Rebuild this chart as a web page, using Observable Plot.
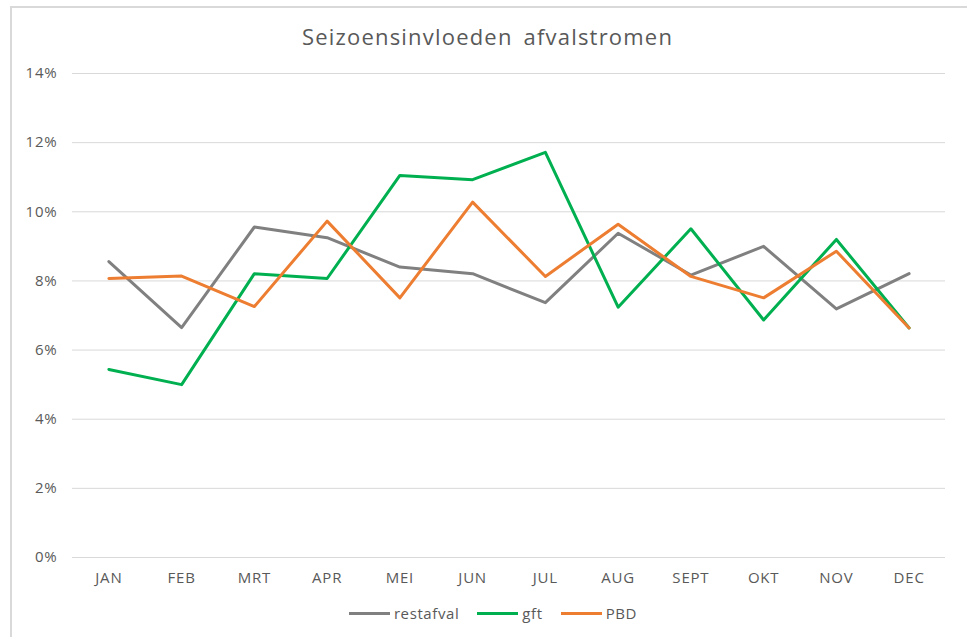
<!DOCTYPE html>
<html>
<head>
<meta charset="utf-8">
<script src="https://cdn.jsdelivr.net/npm/d3@7"></script>
<script src="https://cdn.jsdelivr.net/npm/@observablehq/plot@0.6"></script>
<style>
  html, body { margin: 0; padding: 0; background: #fff; }
  #wrap { position: relative; width: 967px; height: 637px; overflow: hidden; font-family: "Open Sans", sans-serif; color: #595959; }
  #frame { position: absolute; left: 10px; top: 6px; width: 1000px; height: 700px; border-left: 2px solid #d9d9d9; border-top: 2px solid #d9d9d9; }
  #title { position: absolute; left: 0; width: 975px; top: 21px; text-align: center; font-size: 22px; line-height: 30px; word-spacing: 4px; letter-spacing: 1.2px; }
  #chart { position: absolute; left: 0; top: 60px; }
  #chart svg text { letter-spacing: 0.8px; }
  #legend { position: absolute; left: 0; width: 986px; top: 603px; display: flex; justify-content: center; font-size: 15px; line-height: 20px; letter-spacing: 0.6px; }
  .item { display: flex; align-items: center; margin: 0 9px; }
  .swatch { width: 41px; height: 3px; margin-right: 4px; }
</style>
</head>
<body>
<div id="wrap">
  <div id="frame"></div>
  <div id="title">Seizoensinvloeden afvalstromen</div>
  <div id="chart"></div>
  <div id="legend"></div>
</div>
<script>
const months = ["JAN","FEB","MRT","APR","MEI","JUN","JUL","AUG","SEPT","OKT","NOV","DEC"];
const seriesNames = ["restafval","gft","PBD"];
const seriesColors = ["#808080","#00B050","#ED7D31"];
const restafval = [8.56, 6.65, 9.56, 9.25, 8.40, 8.21, 7.37, 9.38, 8.17, 9.00, 7.19, 8.21];
const gft       = [5.44, 5.00, 8.21, 8.07, 11.05, 10.93, 11.72, 7.24, 9.51, 6.87, 9.20, 6.64];
const pbd       = [8.07, 8.14, 7.26, 9.73, 7.51, 10.28, 8.13, 9.64, 8.13, 7.51, 8.86, 6.64];
const yTicks = [0, 2, 4, 6, 8, 10, 12, 14];

const valuesBySeries = [restafval, gft, pbd];
const data = [];
seriesNames.forEach((s, si) => {
  months.forEach((m, i) => data.push({series: s, month: m, value: valuesBySeries[si][i]}));
});

const plot = Plot.plot({
  width: 967,
  height: 540,
  marginTop: 13,
  marginBottom: 43,
  marginLeft: 72,
  marginRight: 22,
  style: {fontFamily: "'Open Sans', sans-serif", fontSize: "15px", color: "#595959", background: "transparent"},
  x: {type: "point", domain: months, padding: 0.5, round: false, label: null},
  y: {domain: [0, 14], label: null},
  color: {domain: seriesNames, range: seriesColors},
  marks: [
    Plot.gridY(yTicks, {stroke: "#d9d9d9", strokeOpacity: 1, strokeWidth: 1}),
    Plot.axisY(yTicks, {tickSize: 0, tickPadding: 15, tickFormat: d => d + "%", fill: "#595959", fontSize: 15}),
    Plot.axisX({tickSize: 0, tickPadding: 15, fill: "#595959", fontSize: 15}),
    ...seriesNames.map((s, si) => Plot.line(data.filter(d => d.series === s), {
      x: "month", y: "value", stroke: seriesColors[si], strokeWidth: 3, strokeLinejoin: "round", strokeLinecap: "round"
    }))
  ]
});
document.getElementById("chart").appendChild(plot);

const legend = document.getElementById("legend");
seriesNames.forEach((s, i) => {
  const item = document.createElement("div");
  item.className = "item";
  const sw = document.createElement("span");
  sw.className = "swatch";
  sw.style.background = seriesColors[i];
  const t = document.createElement("span");
  t.textContent = s;
  item.appendChild(sw);
  item.appendChild(t);
  legend.appendChild(item);
});
</script>
</body>
</html>
